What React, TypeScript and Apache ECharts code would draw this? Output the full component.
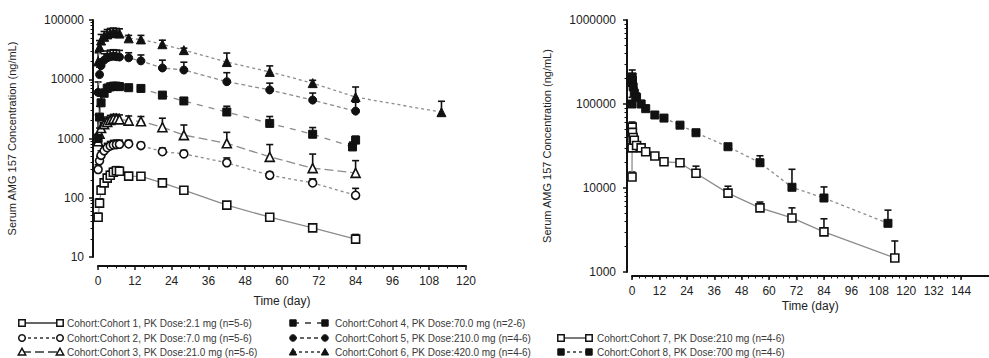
import React, { useEffect, useRef } from 'react';
import * as echarts from 'echarts';

const FONT = '"Liberation Sans", Arial, Helvetica, sans-serif';

// ---------- data (left panel) ----------
const leftTimes = [0.04, 0.5, 1, 2, 3, 4, 5, 6, 7, 10, 14, 21, 28, 42, 56, 70, 84];
const cohort1Mean = [47, 81, 134, 178, 214, 240, 270, 285, 280, 232, 230, 178, 134, 75, 47, 31, 20];
const cohort1Sd = [8, 15, 25, 30, 35, 40, 45, 50, 50, 30, 25, 20, 15, 8, 5, 4, 4];
const cohort2Mean = [300, 420, 520, 620, 700, 750, 780, 790, 800, 810, 760, 600, 550, 390, 240, 178, 110];
const cohort2Sd = [60, 80, 100, 120, 130, 140, 150, 150, 140, 120, 100, 90, 80, 80, 30, 30, 34];
const cohort3Mean = [900, 1200, 1500, 1750, 1900, 2050, 2150, 2150, 2100, 2000, 1950, 1550, 1140, 830, 490, 316, 263];
const cohort3Sd = [300, 300, 350, 400, 400, 400, 400, 400, 400, 400, 400, 650, 550, 440, 300, 230, 160];
const cohort4Times = [0.04, 0.5, 1, 2, 3, 4, 5, 6, 7, 10, 14, 21, 28, 42, 56, 70, 83, 84];
const cohort4Mean = [1000, 2300, 4000, 5800, 7000, 7400, 7600, 7600, 7500, 7200, 7000, 5400, 4300, 2800, 1800, 1180, 720, 940];
const cohort4Sd = [1500, 1200, 1200, 1000, 1200, 1200, 1200, 1200, 1200, 900, 800, 600, 500, 700, 550, 350, 150, 150];
const cohort5Mean = [6000, 12000, 17000, 21000, 23000, 24000, 24500, 24000, 23700, 23000, 20400, 15500, 14300, 9100, 6600, 4450, 2900];
const cohort5Sd = [3000, 4000, 5000, 6000, 7000, 7000, 7000, 7000, 7000, 5000, 5300, 5500, 5100, 3800, 2000, 1400, 1200];
const cohort6Times = [0.04, 0.5, 1, 2, 3, 4, 5, 6, 7, 10, 14, 21, 28, 42, 56, 70, 84, 112];
const cohort6Mean = [20000, 35000, 45000, 52000, 57000, 60000, 61000, 60000, 59000, 49000, 47000, 39000, 31000, 19500, 13300, 8600, 5000, 2780];
const cohort6Sd = [8000, 10000, 12000, 12000, 12000, 12000, 12000, 12000, 12000, 6000, 8000, 6600, 2500, 8200, 3500, 1000, 2400, 1470];

// ---------- data (right panel) ----------
const cohort7Times = [0, 0.04, 0.08, 0.17, 0.5, 1, 2, 4, 6, 10, 14, 21, 28, 42, 56, 70, 84, 115];
const cohort7Mean = [13500, 30000, 53000, 46000, 40000, 37000, 32000, 30000, 27000, 24000, 20500, 20000, 15000, 8700, 5800, 4400, 3000, 1470];
const cohort7Sd = [2000, 5000, 8000, 6000, 5000, 4000, 3000, 3000, 2000, 2000, 1500, 1000, 3200, 1800, 1000, 1400, 1300, 870];
const cohort8Times = [0, 0.04, 0.08, 0.17, 0.5, 1, 2, 4, 6, 10, 14, 21, 28, 42, 56, 70, 84, 112];
const cohort8Mean = [100000, 180000, 210000, 190000, 160000, 135000, 120000, 100000, 88000, 74000, 68000, 56000, 45500, 31000, 20000, 10200, 7600, 3800];
const cohort8Sd = [20000, 40000, 44000, 40000, 30000, 20000, 15000, 10000, 8000, 5000, 4000, 3000, 3000, 2000, 4200, 6500, 2700, 1650];

// ---------- tick labels ----------
const rightXLabels = [0, 12, 24, 36, 48, 60, 72, 84, 96, 108, 120, 132, 144];
const leftYDecades = [10, 100, 1000, 10000, 100000];
const rightYDecades = [1000, 10000, 100000, 1000000];

const legendNames = [
  'Cohort:Cohort 1, PK Dose:2.1 mg (n=5-6)',
  'Cohort:Cohort 2, PK Dose:7.0 mg (n=5-6)',
  'Cohort:Cohort 3, PK Dose:21.0 mg (n=5-6)',
  'Cohort:Cohort 4, PK Dose:70.0 mg (n=2-6)',
  'Cohort:Cohort 5, PK Dose:210.0 mg (n=4-6)',
  'Cohort:Cohort 6, PK Dose:420.0 mg (n=4-6)',
  'Cohort:Cohort 7, PK Dose:210 mg (n=4-6)',
  'Cohort:Cohort 8, PK Dose:700 mg (n=4-6)',
];

type Cohort = {
  name: string;
  panel: number;
  times: number[];
  mean: number[];
  sd: number[];
  symbol: 'rect' | 'circle' | 'triangle';
  filled: boolean;
  dash: number[] | 'solid';
};

const cohorts: Cohort[] = [
  { name: legendNames[0], panel: 0, times: leftTimes, mean: cohort1Mean, sd: cohort1Sd, symbol: 'rect', filled: false, dash: 'solid' },
  { name: legendNames[1], panel: 0, times: leftTimes, mean: cohort2Mean, sd: cohort2Sd, symbol: 'circle', filled: false, dash: [3, 3] },
  { name: legendNames[2], panel: 0, times: leftTimes, mean: cohort3Mean, sd: cohort3Sd, symbol: 'triangle', filled: false, dash: [9, 4] },
  { name: legendNames[3], panel: 0, times: cohort4Times, mean: cohort4Mean, sd: cohort4Sd, symbol: 'rect', filled: true, dash: [6, 6] },
  { name: legendNames[4], panel: 0, times: leftTimes, mean: cohort5Mean, sd: cohort5Sd, symbol: 'circle', filled: true, dash: [4, 3] },
  { name: legendNames[5], panel: 0, times: cohort6Times, mean: cohort6Mean, sd: cohort6Sd, symbol: 'triangle', filled: true, dash: [3, 3] },
  { name: legendNames[6], panel: 1, times: cohort7Times, mean: cohort7Mean, sd: cohort7Sd, symbol: 'rect', filled: false, dash: 'solid' },
  { name: legendNames[7], panel: 1, times: cohort8Times, mean: cohort8Mean, sd: cohort8Sd, symbol: 'rect', filled: true, dash: [3, 3] },
];

const INK = '#111';
const LINE = '#8c8c8c';
const LABEL = '#222';
const TICK_FS = 12;

function logMinor(decades: number[]): number[] {
  const out: number[] = [];
  for (let i = 0; i < decades.length - 1; i++) {
    for (let k = 2; k <= 9; k++) out.push(decades[i] * k);
  }
  return out;
}

function everyN(max: number, step: number): number[] {
  const out: number[] = [];
  for (let v = 0; v <= max + 1e-9; v += step) out.push(v);
  return out;
}

const errorRender = (params: any, api: any) => {
  const x = api.value(0);
  const y = api.value(1);
  const up = api.value(2);
  const p0 = api.coord([x, y]);
  const p1 = api.coord([x, up]);
  const st = { stroke: INK, lineWidth: 1.6 };
  return {
    type: 'group',
    children: [
      { type: 'line', shape: { x1: p0[0], y1: p0[1], x2: p1[0], y2: p1[1] }, style: st },
      { type: 'line', shape: { x1: p1[0] - 3.5, y1: p1[1], x2: p1[0] + 3.5, y2: p1[1] }, style: st },
    ],
  };
};

function legendSymbol(c: Cohort, cx: number, cy: number): any {
  const style = c.filled
    ? { fill: INK, stroke: INK, lineWidth: 1 }
    : { fill: '#fff', stroke: INK, lineWidth: 1.5 };
  if (c.symbol === 'rect') return { type: 'rect', shape: { x: cx - 3.2, y: cy - 3.2, width: 6.4, height: 6.4 }, style, z: 10 };
  if (c.symbol === 'circle') return { type: 'circle', shape: { cx, cy, r: 3.3 }, style, z: 10 };
  return { type: 'polygon', shape: { points: [[cx, cy - 3.6], [cx + 3.7, cy + 3], [cx - 3.7, cy + 3]] }, style, z: 10 };
}

function buildLegend(): any[] {
  const cols = [
    { m1: 22, m2: 60, text: 67 },
    { m1: 293, m2: 325, text: 335 },
    { m1: 561, m2: 589, text: 597 },
  ];
  const rowsY = [323, 338, 352];
  const slots = [
    [0, 0], [0, 1], [0, 2],
    [1, 0], [1, 1], [1, 2],
    [2, 1], [2, 2],
  ];
  const els: any[] = [];
  cohorts.forEach((c, i) => {
    const col = cols[slots[i][0]];
    const y = rowsY[slots[i][1]];
    els.push({
      type: 'line',
      shape: { x1: col.m1, y1: y, x2: col.m2, y2: y },
      style: { stroke: '#333', lineWidth: 1.3, lineDash: c.dash === 'solid' ? null : c.dash },
      z: 5,
    });
    els.push(legendSymbol(c, col.m1, y));
    els.push(legendSymbol(c, col.m2, y));
    els.push({
      type: 'text',
      x: col.text,
      y,
      style: { text: c.name, fontSize: 10, fontFamily: FONT, fill: '#3a3a3a', align: 'left', verticalAlign: 'middle' },
      z: 10,
    });
  });
  return els;
}

const fmt = (v: number) => String(Math.round(v));

function baseX(grid: number, max: number, offset: number, extra: any = {}) {
  return {
    type: 'value',
    gridIndex: grid,
    min: 0,
    max,
    interval: 12,
    position: 'bottom',
    offset,
    axisLine: { show: true, onZero: false, lineStyle: { color: INK, width: 2 } },
    axisTick: { show: true, length: 4, lineStyle: { color: INK, width: 1.5 } },
    splitLine: { show: false },
    axisLabel: { fontSize: TICK_FS, color: LABEL, fontFamily: FONT, margin: 9, formatter: fmt },
    name: 'Time (day)',
    nameLocation: 'middle',
    nameGap: 29,
    nameMoveOverlap: false,
    nameTextStyle: { fontSize: 12, color: LABEL, fontFamily: FONT },
    ...extra,
  };
}

function baseY(grid: number, min: number, max: number, extra: any = {}) {
  return {
    type: 'log',
    logBase: 10,
    gridIndex: grid,
    min,
    max,
    position: 'left',
    offset: 5,
    axisLine: { show: true, onZero: false, lineStyle: { color: INK, width: 2 } },
    axisTick: { show: true, length: 4, lineStyle: { color: INK, width: 1.5 } },
    splitLine: { show: false },
    minorTick: { show: false },
    axisLabel: { fontSize: TICK_FS, color: LABEL, fontFamily: FONT, margin: 9, formatter: fmt },
    name: 'Serum AMG 157 Concentration (ng/mL)',
    nameLocation: 'middle',
    nameGap: 76,
    nameRotate: 90,
    nameMoveOverlap: false,
    nameTextStyle: { fontSize: 11, color: LABEL, fontFamily: FONT },
    ...extra,
  };
}

function minorY(grid: number, min: number, max: number, decades: number[]) {
  return {
    type: 'log',
    logBase: 10,
    gridIndex: grid,
    min,
    max,
    position: 'left',
    offset: 5,
    axisLine: { show: false, onZero: false },
    axisTick: { show: true, length: 2.5, lineStyle: { color: INK, width: 1 }, customValues: logMinor(decades) },
    axisLabel: { show: false },
    splitLine: { show: false },
  };
}

export default function App() {
  const ref = useRef<HTMLDivElement>(null);
  useEffect(() => {
    if (!ref.current) return;
    const chart = echarts.init(ref.current, undefined, { renderer: 'svg' });

    const series: any[] = [];
    cohorts.forEach((c) => {
      const xi = c.panel === 0 ? 0 : 1;
      const yi = c.panel === 0 ? 0 : 2;
      series.push({
        type: 'custom',
        name: c.name + ' SD',
        xAxisIndex: xi,
        yAxisIndex: yi,
        data: c.times.map((t, i) => [t, c.mean[i], c.mean[i] + c.sd[i]]),
        encode: { x: 0, y: [1, 2] },
        renderItem: errorRender,
        z: 2,
        silent: true,
      });
      series.push({
        type: 'line',
        name: c.name,
        xAxisIndex: xi,
        yAxisIndex: yi,
        data: c.times.map((t, i) => [t, c.mean[i]]),
        symbol: c.symbol,
        symbolSize: c.symbol === 'triangle' ? 9 : 8,
        showAllSymbol: true,
        lineStyle: { color: LINE, width: 1.3, type: c.dash },
        itemStyle: c.filled
          ? { color: INK, borderColor: INK, borderWidth: 1 }
          : { color: '#fff', borderColor: INK, borderWidth: 1.6 },
        z: 3,
      });
    });

    chart.setOption({
      animation: false,
      backgroundColor: '#fff',
      grid: [
        { left: 98, top: 20, width: 368, height: 237 },
        { left: 632, top: 20, width: 356.5, height: 252 },
      ],
      xAxis: [
        baseX(0, 120, 9, { minorTick: { show: true, splitNumber: 4, length: 2.5, lineStyle: { color: INK, width: 1 } } }),
        baseX(1, 156, 4, {
          axisTick: { show: true, length: 4, lineStyle: { color: INK, width: 1.5 }, customValues: rightXLabels },
          axisLabel: { fontSize: TICK_FS, color: LABEL, fontFamily: FONT, margin: 9, formatter: fmt, customValues: rightXLabels },
          nameGap: 24,
        }),
        {
          type: 'value', gridIndex: 1, min: 0, max: 156, position: 'bottom', offset: 4,
          axisLine: { show: false, onZero: false },
          axisTick: { show: true, length: 2.5, lineStyle: { color: INK, width: 1 }, customValues: everyN(144, 3) },
          axisLabel: { show: false },
          splitLine: { show: false },
        },
      ],
      yAxis: [
        baseY(0, 10, 100000),
        minorY(0, 10, 100000, leftYDecades),
        baseY(1, 1000, 1000000, {
          axisLabel: { fontSize: TICK_FS, color: LABEL, fontFamily: FONT, margin: 11, formatter: fmt, customValues: rightYDecades },
          axisTick: { show: true, length: 4, lineStyle: { color: INK, width: 1.5 }, customValues: rightYDecades },
          nameGap: 75,
        }),
        minorY(1, 1000, 1000000, rightYDecades),
      ],
      series,
      graphic: buildLegend(),
    });
    return () => chart.dispose();
  }, []);
  return <div ref={ref} style={{ position: 'fixed', left: 0, top: 0, width: 989, height: 358, background: '#fff' }} />;
}
